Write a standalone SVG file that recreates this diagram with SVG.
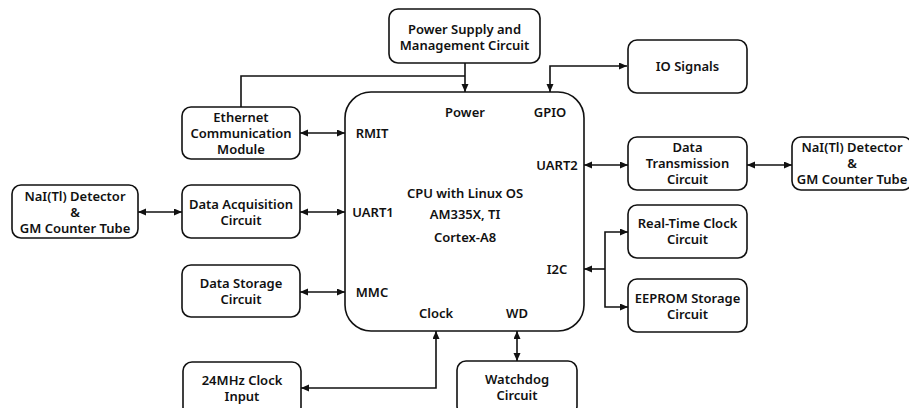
<svg xmlns="http://www.w3.org/2000/svg" width="909" height="408" viewBox="0 0 909 408">
  <style>
    .box { fill: #ffffff; stroke: #111111; stroke-width: 1.6; }
    .lbl { font-family: "Noto Sans", "Open Sans", "DejaVu Sans", sans-serif; font-size: 13px; font-weight: 600; fill: #111111; text-anchor: middle; }
    .wire { fill: none; stroke: #111111; stroke-width: 1.6; }
    .both { marker-start: url(#tip); marker-end: url(#tip); }
    .end { marker-end: url(#tip); }
  </style>
  <defs>
    <marker id="tip" markerUnits="userSpaceOnUse" markerWidth="9" markerHeight="8" refX="8" refY="3.5" orient="auto-start-reverse">
      <path d="M0,0 L8,3.5 L0,7 z" fill="#111111"/>
    </marker>
  </defs>

  <rect width="909" height="408" fill="#ffffff"/>

  <!-- connectors -->
  <g id="connectors">
    <path class="wire end" d="M465,63 V92"/>
    <path class="wire" d="M241,107 V76 H465"/>
    <path class="wire both" d="M550,92 V66 H627"/>
    <path class="wire both" d="M300,133 H345"/>
    <path class="wire both" d="M138,212 H182"/>
    <path class="wire both" d="M300,212 H345"/>
    <path class="wire both" d="M300,292 H345"/>
    <path class="wire both" d="M436,331 V388 H301"/>
    <path class="wire both" d="M517,331 V361"/>
    <path class="wire end" d="M605,269 H584"/>
    <path class="wire both" d="M628,232 H605 V307 H628"/>
    <path class="wire both" d="M584,165 H628"/>
    <path class="wire both" d="M747,165 H792"/>
  </g>

  <!-- central processor -->
  <g id="cpu">
    <rect class="box" x="345" y="92" width="239" height="239" rx="26"/>
    <text class="lbl" x="465" y="193" dy="0.35em">CPU with Linux OS</text>
    <text class="lbl" x="465" y="214" dy="0.35em">AM335X, TI</text>
    <text class="lbl" x="465" y="237" dy="0.35em">Cortex-A8</text>
    <text class="lbl" x="465" y="112" dy="0.35em">Power</text>
    <text class="lbl" x="550" y="112" dy="0.35em">GPIO</text>
    <text class="lbl" x="372" y="133" dy="0.35em">RMIT</text>
    <text class="lbl" x="373" y="212" dy="0.35em">UART1</text>
    <text class="lbl" x="372" y="292" dy="0.35em">MMC</text>
    <text class="lbl" x="436" y="313" dy="0.35em">Clock</text>
    <text class="lbl" x="517" y="313" dy="0.35em">WD</text>
    <text class="lbl" x="557" y="269" dy="0.35em">I2C</text>
    <text class="lbl" x="557" y="165" dy="0.35em">UART2</text>
  </g>

  <g id="power-supply">
    <rect class="box" x="389" y="9" width="151" height="54" rx="9"/>
    <text class="lbl" x="464.5" y="29" dy="0.35em">Power Supply and</text>
    <text class="lbl" x="464.5" y="45" dy="0.35em">Management Circuit</text>
  </g>

  <g id="io-signals">
    <rect class="box" x="628" y="40" width="119" height="53" rx="9"/>
    <text class="lbl" x="687.5" y="66" dy="0.35em">IO Signals</text>
  </g>

  <g id="ethernet">
    <rect class="box" x="182" y="107" width="118" height="52" rx="9"/>
    <text class="lbl" x="241" y="117" dy="0.35em">Ethernet</text>
    <text class="lbl" x="241" y="133" dy="0.35em">Communication</text>
    <text class="lbl" x="241" y="149" dy="0.35em">Module</text>
  </g>

  <g id="detector-left">
    <rect class="box" x="12" y="185" width="126" height="53" rx="9"/>
    <text class="lbl" x="75" y="196" dy="0.35em">NaI(Tl) Detector</text>
    <text class="lbl" x="75" y="212" dy="0.35em">&amp;</text>
    <text class="lbl" x="75" y="228" dy="0.35em">GM Counter Tube</text>
  </g>

  <g id="data-acquisition">
    <rect class="box" x="182" y="185" width="118" height="53" rx="9"/>
    <text class="lbl" x="241" y="204" dy="0.35em">Data Acquisition</text>
    <text class="lbl" x="241" y="220" dy="0.35em">Circuit</text>
  </g>

  <g id="data-storage">
    <rect class="box" x="182" y="265" width="118" height="52" rx="9"/>
    <text class="lbl" x="241" y="283" dy="0.35em">Data Storage</text>
    <text class="lbl" x="241" y="299" dy="0.35em">Circuit</text>
  </g>

  <g id="clock-input">
    <rect class="box" x="183" y="362" width="118" height="54" rx="9"/>
    <text class="lbl" x="242" y="380" dy="0.35em">24MHz Clock</text>
    <text class="lbl" x="242" y="396" dy="0.35em">Input</text>
  </g>

  <g id="watchdog">
    <rect class="box" x="457" y="361" width="120" height="54" rx="9"/>
    <text class="lbl" x="517" y="379" dy="0.35em">Watchdog</text>
    <text class="lbl" x="517" y="395" dy="0.35em">Circuit</text>
  </g>

  <g id="data-transmission">
    <rect class="box" x="628" y="137" width="119" height="53" rx="9"/>
    <text class="lbl" x="687.5" y="147" dy="0.35em">Data</text>
    <text class="lbl" x="687.5" y="163" dy="0.35em">Transmission</text>
    <text class="lbl" x="687.5" y="179" dy="0.35em">Circuit</text>
  </g>

  <g id="detector-right">
    <rect class="box" x="792" y="137" width="120" height="53" rx="9"/>
    <text class="lbl" x="852" y="147" dy="0.35em">NaI(Tl) Detector</text>
    <text class="lbl" x="852" y="163" dy="0.35em">&amp;</text>
    <text class="lbl" x="852" y="179" dy="0.35em">GM Counter Tube</text>
  </g>

  <g id="rtc">
    <rect class="box" x="628" y="205" width="119" height="53" rx="9"/>
    <text class="lbl" x="687.5" y="223" dy="0.35em">Real-Time Clock</text>
    <text class="lbl" x="687.5" y="239" dy="0.35em">Circuit</text>
  </g>

  <g id="eeprom">
    <rect class="box" x="628" y="279" width="119" height="53" rx="9"/>
    <text class="lbl" x="687.5" y="298" dy="0.35em">EEPROM Storage</text>
    <text class="lbl" x="687.5" y="314" dy="0.35em">Circuit</text>
  </g>
</svg>
